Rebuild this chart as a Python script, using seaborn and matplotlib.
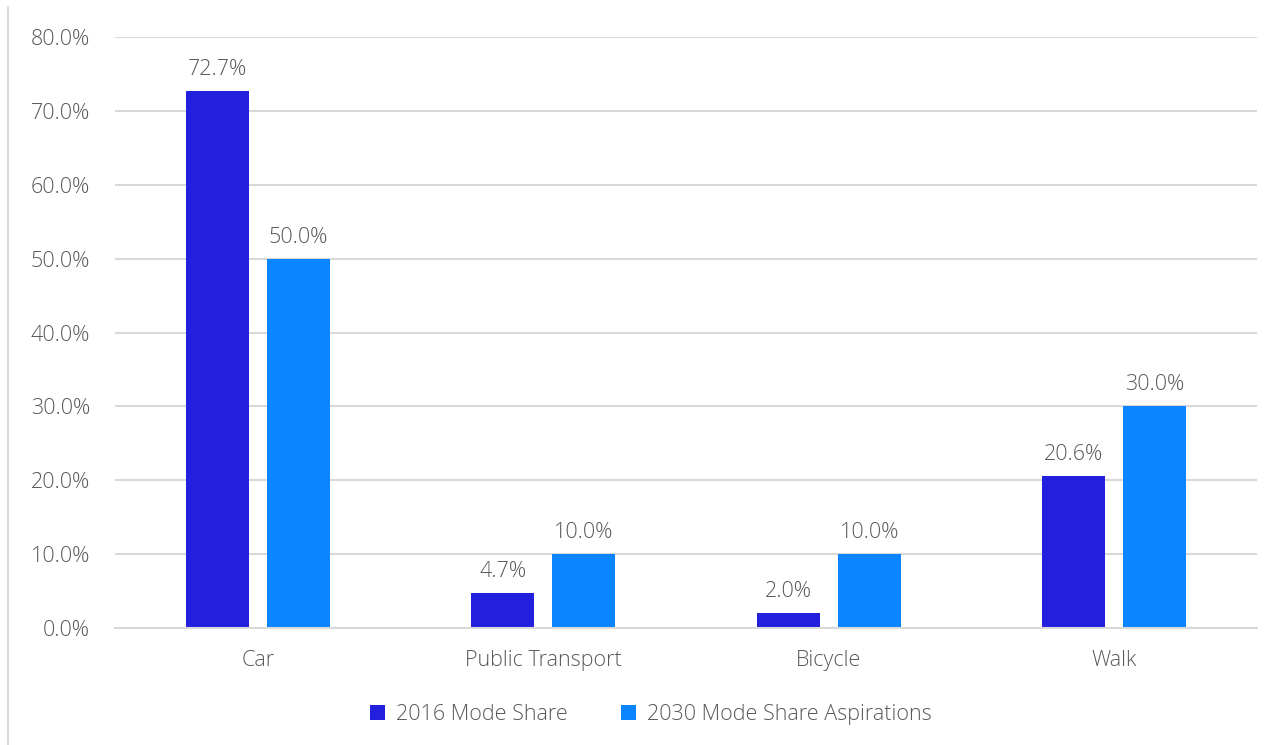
import matplotlib
matplotlib.use("Agg")
import matplotlib.pyplot as plt
import seaborn as sns
import pandas as pd
from matplotlib.lines import Line2D
from matplotlib.patches import Patch

categories = ["Car", "Public Transport", "Bicycle", "Walk"]
series_names = ["2016 Mode Share", "2030 Mode Share Aspirations"]
share_2016 = [72.7, 4.7, 2.0, 20.6]
share_2030 = [50.0, 10.0, 10.0, 30.0]
y_ticks = [0, 10, 20, 30, 40, 50, 60, 70, 80]
colors = ["#2320DD", "#0A84FF"]

df = pd.DataFrame({
    "Mode": categories * 2,
    "Series": [series_names[0]] * 4 + [series_names[1]] * 4,
    "Share": share_2016 + share_2030,
})

sns.set_theme(style="white")
plt.rcParams["font.family"] = ["Open Sans", "DejaVu Sans"]
plt.rcParams["font.weight"] = "light"
text_color = "#595959"
fs = 15.5

fig = plt.figure(figsize=(12.76, 7.45), dpi=100)
ax = fig.add_axes([0.0901, 0.157, 0.8949, 0.793])

sns.barplot(data=df, x="Mode", y="Share", hue="Series", palette=colors,
            width=0.568, gap=0.225, ax=ax, legend=False, saturation=1,
            linewidth=0, edgecolor="none")

ax.set_ylim(0, 80)
ax.set_xlim(-0.5, 3.5)
ax.set_yticks(y_ticks)
ax.set_yticklabels([f"{v:.1f}%" for v in y_ticks], fontsize=fs, color=text_color)
ax.tick_params(axis="x", labelsize=fs, labelcolor=text_color, length=0, pad=16)
ax.tick_params(axis="y", length=0, pad=18)
ax.set_xlabel("")
ax.set_ylabel("")
ax.grid(axis="y", color="#d9d9d9", linewidth=1.5)
ax.set_axisbelow(True)
for s in ["top", "right", "left"]:
    ax.spines[s].set_visible(False)
ax.spines["bottom"].set_color("#d9d9d9")
ax.spines["bottom"].set_linewidth(1.5)

for cont in ax.containers:
    ax.bar_label(cont, labels=[f"{b.get_height():.1f}%" for b in cont],
                 padding=8, fontsize=fs, color=text_color)

handles = [Patch(facecolor=c, edgecolor="none") for c in colors]
fig.legend(handles, series_names, loc="center", bbox_to_anchor=(0.51, 0.041),
           ncol=2, frameon=False, fontsize=fs, labelcolor=text_color,
           handlelength=0.7, handleheight=0.7, handletextpad=0.5, columnspacing=2.5)

fig.add_artist(Line2D([0.0063, 0.0063], [0.0, 0.99], transform=fig.transFigure,
                      color="#d9d9d9", linewidth=1.5))

fig.savefig("out.png", dpi=100, facecolor="white")
